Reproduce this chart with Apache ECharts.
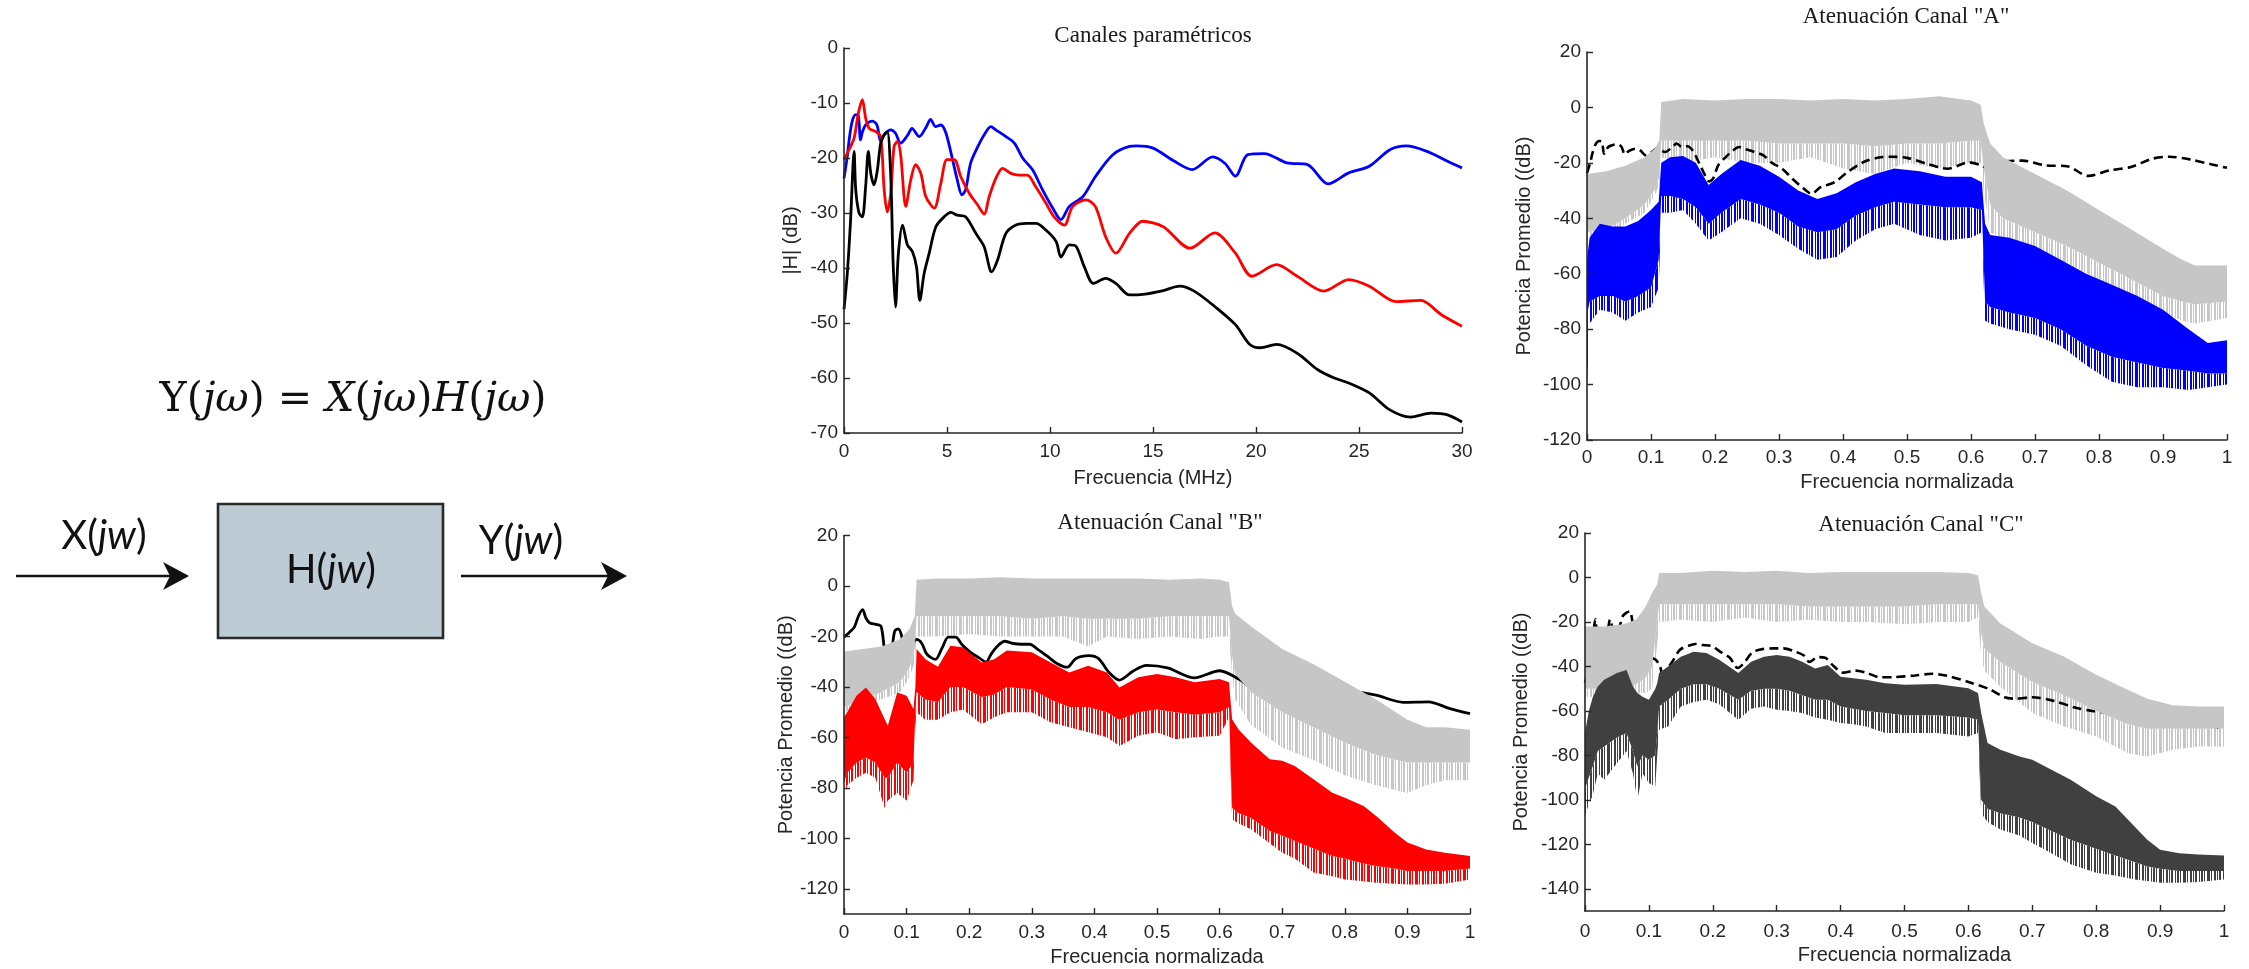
<!DOCTYPE html>
<html><head><meta charset="utf-8">
<script src="https://cdn.jsdelivr.net/npm/echarts@6.0.0/dist/echarts.min.js"></script>
<style>html,body{margin:0;padding:0;background:#fff}#c{width:2249px;height:969px}</style>
</head><body><div id="c"></div>
<script>
// ---------- DATA ----------
const fMax = 30; // MHz, full band (normalised frequency 1)
// Canales paramétricos [MHz, dB]
const chanBlue = [[0,-23.7],[0.16,-19.7],[0.25,-16.7],[0.4,-13.3],[0.57,-12.1],[0.7,-12.4],[0.8,-16.7],[0.9,-15.2],[1.05,-14],[1.38,-13.3],[1.6,-14],[1.78,-17],[1.95,-15.8],[2.27,-14.9],[2.5,-15.5],[2.75,-17.3],[3.1,-15.8],[3.3,-14.6],[3.65,-16.1],[4.0,-14.3],[4.2,-13],[4.45,-14.3],[4.7,-14],[4.95,-15.5],[5.27,-20.3],[5.5,-24],[5.72,-26.7],[5.9,-25.8],[6.15,-20.9],[6.5,-17.9],[6.8,-15.8],[7.13,-14.3],[7.37,-14.9],[7.86,-16.1],[8.27,-17.3],[8.67,-20],[9.16,-22.2],[9.64,-25.8],[10.13,-29.1],[10.53,-31.2],[10.94,-28.8],[11.6,-27],[12.2,-23.4],[13.05,-19.4],[13.86,-17.9],[14.2,-17.8],[15,-18.2],[16,-20.5],[16.9,-22.1],[17.9,-19.8],[18.5,-21],[19,-23.3],[19.6,-19.4],[20.4,-19.2],[21.5,-20.9],[22.5,-21.2],[23.5,-24.7],[24.5,-22.7],[25.5,-21.5],[26.5,-18.5],[27.3,-17.8],[28.3,-18.8],[29.3,-20.6],[30,-21.8]];
const chanRed = [[0,-20.3],[0.24,-18.5],[0.49,-16.4],[0.7,-11.8],[0.89,-9.4],[1.05,-12.7],[1.22,-14.6],[1.54,-15.2],[1.78,-16.1],[1.95,-25.8],[2.1,-29.8],[2.27,-26.4],[2.43,-17.9],[2.6,-17],[2.75,-19.4],[3.0,-28.8],[3.24,-24],[3.48,-21.2],[3.73,-22.8],[3.97,-27],[4.38,-29.1],[4.7,-24.6],[5.0,-20.3],[5.35,-20.3],[5.67,-23.4],[6.08,-26.4],[6.48,-28.5],[6.8,-30.2],[7.05,-27],[7.37,-23.7],[7.7,-21.9],[8.1,-22.8],[8.5,-23.1],[8.9,-23.1],[9.3,-25.2],[9.8,-28.2],[10.2,-30.7],[10.7,-32.2],[11.1,-28.8],[11.75,-27.6],[12.2,-28.8],[12.7,-34.3],[13.2,-37.3],[13.86,-33.7],[14.5,-31.5],[15.5,-32.5],[16.8,-36.4],[18,-33.6],[19,-37.3],[19.8,-41.5],[21,-39.4],[22,-41.5],[23.3,-44.2],[24.5,-42.1],[25.5,-43.3],[26.8,-46.1],[28,-45.9],[29,-48.5],[30,-50.6]];
const chanBlack = [[0,-47.5],[0.16,-41],[0.32,-31.3],[0.49,-18.8],[0.57,-25.8],[0.73,-30],[0.89,-30.7],[1.05,-25.2],[1.18,-18.8],[1.3,-22.8],[1.46,-24.9],[1.62,-22.2],[1.78,-17.3],[1.95,-15.8],[2.1,-15.2],[2.27,-23.4],[2.38,-38.6],[2.5,-47.1],[2.64,-37.4],[2.84,-32.2],[3.08,-35.8],[3.32,-37],[3.52,-39.8],[3.68,-45.9],[3.89,-41],[4.13,-37.4],[4.46,-32.5],[4.86,-30.7],[5.19,-29.9],[5.5,-30.4],[5.9,-30.7],[6.4,-33.7],[6.8,-36.1],[7.17,-40.7],[7.45,-38.6],[7.86,-33.7],[8.35,-32.2],[8.84,-31.9],[9.32,-31.9],[9.8,-33.1],[10.3,-35.2],[10.53,-38],[10.94,-35.8],[11.27,-36.1],[11.67,-39.8],[12.1,-42.8],[12.7,-41.9],[13.2,-42.8],[13.86,-44.9],[14.5,-44.8],[15.5,-44.1],[16.3,-43.3],[17,-44.2],[18,-47],[19,-50.3],[19.7,-53.9],[20.2,-54.5],[21,-53.9],[22,-55.5],[23,-58.5],[23.8,-60],[24.5,-60.9],[25.5,-62.7],[26.5,-65.8],[27.5,-67.1],[28.5,-66.4],[29.3,-66.7],[30,-68]];

// Noisy spectra envelopes: [normalised freq, upper, dense-core lower, spike lower] (dB)
const grayA = [[0,-24,-45,-48],[0.03,-23,-44,-46],[0.06,-21,-40,-42],[0.09,-18,-35,-38],[0.105,-15,-30,-32],[0.113,-12,-25,-28],[0.116,2,-12,-18],[0.15,3,-12,-20],[0.2,2.5,-12,-18],[0.25,3,-12,-20],[0.3,3,-13,-20],[0.35,2.5,-13,-18],[0.4,3,-13,-22],[0.45,2.5,-14,-24],[0.5,3,-13,-20],[0.55,4,-13,-22],[0.6,2.5,-12,-20],[0.615,1,-12,-20],[0.62,-6,-22,-30],[0.63,-13,-35,-45],[0.65,-18,-40,-47],[0.7,-24,-45,-52],[0.75,-30,-50,-56],[0.8,-37,-56,-62],[0.85,-44,-62,-68],[0.9,-51,-68,-74],[0.93,-55,-70,-77],[0.95,-57,-71,-78],[1.0,-57,-70,-76]];
const blueA = [[0,-55,-75,-100],[0.004,-47,-70,-78],[0.02,-42,-68,-73],[0.04,-43,-68,-74],[0.06,-43,-70,-77],[0.08,-41,-68,-74],[0.1,-37,-65,-72],[0.112,-34,-55,-65],[0.116,-20,-32,-38],[0.13,-18,-32,-38],[0.15,-17.5,-33,-37],[0.17,-20,-36,-42],[0.19,-28,-42,-48],[0.21,-24,-38,-45],[0.24,-19,-33,-40],[0.27,-21,-35,-42],[0.3,-25,-38,-46],[0.33,-30,-43,-51],[0.36,-33,-45,-55],[0.39,-31,-44,-54],[0.42,-27,-39,-48],[0.45,-24,-36,-44],[0.48,-22,-34,-42],[0.52,-23,-35,-46],[0.56,-25,-36,-48],[0.6,-25,-36,-47],[0.617,-27,-37,-45],[0.622,-42,-70,-77],[0.63,-46,-72,-78],[0.66,-47,-74,-80],[0.7,-50,-76,-82],[0.74,-55,-80,-86],[0.78,-60,-86,-93],[0.82,-64,-90,-99],[0.86,-68,-92,-101],[0.9,-73,-94,-101],[0.94,-80,-95,-102],[0.97,-85,-96,-101],[1.0,-84,-96,-100]];
const grayB = [[0,-26,-48,-50],[0.03,-25,-45,-47],[0.06,-24,-42,-45],[0.09,-21,-38,-42],[0.105,-17,-32,-36],[0.113,-12,-25,-30],[0.116,2.5,-12,-20],[0.15,3,-12,-20],[0.2,3,-12,-19],[0.25,3.5,-12,-20],[0.3,3,-13,-20],[0.35,3,-12,-20],[0.39,3,-13,-24],[0.42,3,-13,-20],[0.47,3,-13,-21],[0.52,2.5,-12,-20],[0.57,3,-12,-21],[0.6,2.5,-12,-20],[0.615,1.5,-12,-20],[0.62,-8,-28,-35],[0.625,-11,-35,-45],[0.65,-16,-42,-55],[0.7,-25,-50,-64],[0.75,-31,-56,-69],[0.8,-38,-62,-75],[0.85,-45,-67,-79],[0.9,-53,-70,-82],[0.93,-56,-70,-79],[0.96,-56,-70,-77],[1.0,-57,-70,-77]];
const redB = [[0,-52,-78,-85],[0.005,-50,-74,-79],[0.02,-43.5,-70,-76],[0.035,-40.2,-68,-74],[0.05,-44.8,-70,-76],[0.065,-52.8,-76,-88],[0.07,-55.4,-76,-85],[0.085,-42.2,-70,-82],[0.1,-43.5,-74,-85],[0.111,-48.8,-70,-77],[0.114,-40,-50,-55],[0.116,-25,-42,-50],[0.13,-29,-45,-53],[0.15,-32,-46,-53],[0.17,-23.7,-40,-50],[0.19,-24.3,-40,-49],[0.22,-30.3,-44,-54.8],[0.24,-29,-43,-52],[0.26,-25.6,-40,-50],[0.3,-26.3,-41,-50],[0.33,-30.3,-45,-54],[0.36,-34.3,-48,-56],[0.39,-31.6,-48,-58],[0.42,-34.3,-50,-60],[0.44,-40.2,-53,-63.4],[0.47,-36.2,-50,-59.4],[0.5,-34.9,-49,-58],[0.53,-36.2,-50,-60.7],[0.56,-38.2,-51,-60],[0.6,-36.9,-50,-59.4],[0.615,-38.2,-48,-52],[0.62,-52.8,-88,-92.5],[0.63,-56.8,-90,-94],[0.65,-62,-92,-96.4],[0.68,-68.7,-97,-102],[0.7,-69.3,-99,-105.7],[0.72,-71.3,-101,-108],[0.75,-76.6,-104,-113.6],[0.78,-81.9,-107,-115],[0.8,-83.9,-108,-116.3],[0.83,-87.2,-110,-117],[0.85,-91.2,-111,-117.6],[0.88,-97.8,-112,-118],[0.9,-101.7,-113,-118.3],[0.93,-104.4,-113,-118.3],[0.96,-105.7,-113,-118],[1.0,-107,-112,-116.3]];
const grayC = [[0,-22,-50,-54],[0.03,-22,-50,-53],[0.06,-21,-50,-53],[0.08,-19,-48,-52],[0.095,-13,-45,-52],[0.105,-7,-40,-50],[0.113,-3,-20,-30],[0.116,2,-12,-20],[0.15,2,-12,-19],[0.2,3,-12,-20],[0.25,2.5,-12,-18],[0.3,3,-12,-20],[0.35,2,-13,-19],[0.4,2.5,-13,-20],[0.45,2.5,-13,-20],[0.5,2.5,-13,-21],[0.55,2.5,-12,-20],[0.6,2,-12,-20],[0.615,1,-12,-18],[0.62,-7,-25,-35],[0.625,-13,-32,-42],[0.65,-20.7,-38,-49],[0.7,-29.6,-47,-61],[0.75,-35.6,-53,-67],[0.8,-43.8,-60,-71.5],[0.85,-50.6,-66,-79],[0.88,-54.5,-68,-80.5],[0.92,-57.5,-68,-77.5],[0.96,-58,-68,-76],[1.0,-58,-68,-76]];
const dgrayC = [[0,-70,-95,-107],[0.006,-60,-90,-102],[0.012,-54,-85,-98],[0.02,-49,-78,-88],[0.03,-46,-76,-91],[0.05,-43,-72,-83.5],[0.065,-41.6,-70,-78],[0.075,-49,-78,-88],[0.082,-52,-85,-100],[0.09,-53.6,-80,-88],[0.1,-55,-82,-92.4],[0.11,-50,-80,-94],[0.113,-47.6,-70,-80],[0.116,-43,-58,-68.5],[0.13,-40,-55,-67],[0.15,-35.6,-50,-58],[0.17,-33.4,-48,-56],[0.19,-34,-48,-55],[0.21,-37,-50,-57],[0.24,-43,-55,-64],[0.26,-37.9,-51,-59],[0.28,-35.6,-50,-58],[0.3,-34.9,-50,-59.5],[0.32,-35.6,-51,-60],[0.34,-37.9,-53,-61],[0.36,-40.9,-55,-63],[0.38,-39.4,-55,-64],[0.4,-44.6,-58,-65.5],[0.42,-45.3,-59,-66],[0.44,-46,-60,-67],[0.47,-47.6,-61,-70],[0.5,-48.3,-62,-70],[0.55,-47.9,-62,-70],[0.6,-49.8,-63,-71.5],[0.615,-52,-64,-70],[0.62,-61,-100,-106],[0.63,-74.5,-104,-110],[0.65,-77.5,-106,-113.4],[0.68,-80.5,-108,-116],[0.7,-82,-110,-119.4],[0.73,-86.5,-114,-124],[0.76,-91,-118,-129],[0.8,-98.4,-122,-132.8],[0.83,-103,-125,-134],[0.86,-112,-128,-135.8],[0.88,-118,-130,-136.5],[0.9,-122.4,-131,-137.3],[0.93,-124,-132,-137.3],[0.96,-124.6,-132,-137],[1.0,-125,-132,-135.8]];

// Tick labels
const ticksMHz = [0,5,10,15,20,25,30];
const ticksNorm = [0,0.1,0.2,0.3,0.4,0.5,0.6,0.7,0.8,0.9,1];
const ticksH = [0,-10,-20,-30,-40,-50,-60,-70];
const ticksAB = [20,0,-20,-40,-60,-80,-100,-120];
const ticksC = [20,0,-20,-40,-60,-80,-100,-120,-140];

// Texts
const titles = ['Canales paramétricos','Atenuación Canal "A"','Atenuación Canal "B"','Atenuación Canal "C"'];
const xNameMHz = 'Frecuencia (MHz)';
const xNameNorm = 'Frecuencia normalizada';
const yNameH = '|H| (dB)';
const yNameP = 'Potencia Promedio ((dB)';

// ---------- CHART ----------
const SANS = '"Liberation Sans", Arial, sans-serif';
const SERIF = '"Liberation Serif", "Times New Roman", serif';
const AX = '#262626';

// irregular vertical-line texture for the sparse (spike) part of the noisy spectra
const STRIPE = [1,1,0,1,0,0,1,1,0,1,0,1,1,0,0,1,0,1,1,0,1,0,0,1];
function stripes(color) {
  const c = document.createElement('canvas');
  c.width = STRIPE.length; c.height = 8;
  const ctx = c.getContext('2d');
  ctx.fillStyle = color;
  STRIPE.forEach((on, i) => { if (on) ctx.fillRect(i, 0, 1, 8); });
  return {type: 'pattern', image: c, repeat: 'repeat'};
}

function xAx(gi, min, max, ticks, name, gap, margin) {
  return {
    type: 'value', gridIndex: gi, min: min, max: max, z: 10,
    axisLine: {show: true, onZero: false, lineStyle: {color: AX, width: 1.6}},
    axisTick: {show: true, inside: true, length: 6, customValues: ticks, lineStyle: {color: AX, width: 1.4}},
    axisLabel: {customValues: ticks, margin: margin, fontSize: 19, fontFamily: SANS, color: AX},
    splitLine: {show: false},
    name: name, nameLocation: 'middle', nameGap: gap,
    nameTextStyle: {fontSize: 20, fontFamily: SANS, color: AX}
  };
}
function yAx(gi, min, max, ticks, name, gap) {
  return {
    type: 'value', gridIndex: gi, min: min, max: max, z: 10,
    axisLine: {show: true, onZero: false, lineStyle: {color: AX, width: 1.6}},
    axisTick: {show: true, inside: true, length: 6, customValues: ticks, lineStyle: {color: AX, width: 1.4}},
    axisLabel: {customValues: ticks, margin: 6, fontSize: 19, fontFamily: SANS, color: AX},
    splitLine: {show: false},
    name: name, nameLocation: 'middle', nameGap: gap,
    nameTextStyle: {fontSize: 20, fontFamily: SANS, color: AX}
  };
}
function lineS(idx, data, color, dashed, z) {
  return {
    type: 'line', xAxisIndex: idx, yAxisIndex: idx, data: data,
    showSymbol: false, symbol: 'none', silent: true, z: z || 2, smooth: 0.3,
    lineStyle: {color: color, width: dashed ? 2.6 : 2.8, type: dashed ? [9, 5] : 'solid'}
  };
}
// part: 'core' = dense region (upper -> core lower), 'spike' = sparse region (core lower -> spike lower)
function bandS(idx, rows, part, fill, z) {
  return {
    type: 'custom', xAxisIndex: idx, yAxisIndex: idx, coordinateSystem: 'cartesian2d',
    data: rows, encode: {x: 0, y: [1, 2, 3]}, silent: true, z: z,
    renderItem: function (params, api) {
      if (params.dataIndex !== 0) return null;
      const a = part === 'core' ? 1 : 2, b = part === 'core' ? 2 : 3;
      const up = rows.map(r => api.coord([r[0], r[a]]));
      const dn = rows.map(r => api.coord([r[0], r[b]]));
      return {type: 'polygon', shape: {points: up.concat(dn.reverse())}, style: {fill: fill}};
    }
  };
}
const norm = d => d.map(p => [p[0] / fMax, p[1]]);

const GRAY = '#c6c6c6', BLUE = '#0000ff', RED = '#ff0000', DGRAY = '#404040';
const option = {
  animation: false,
  backgroundColor: '#ffffff',
  grid: [
    {left: 844, top: 48, width: 618, height: 385},
    {left: 1587, top: 52, width: 640, height: 388},
    {left: 844, top: 535.5, width: 626, height: 378.5},
    {left: 1585, top: 533, width: 639, height: 378}
  ],
  xAxis: [
    xAx(0, 0, 30, ticksMHz, xNameMHz, 35, 9),
    xAx(1, 0, 1, ticksNorm, xNameNorm, 32, 8),
    xAx(2, 0, 1, ticksNorm, xNameNorm, 33, 9),
    xAx(3, 0, 1, ticksNorm, xNameNorm, 34, 11)
  ],
  yAxis: [
    yAx(0, -70, 0, ticksH, yNameH, 43),
    yAx(1, -120, 20, ticksAB, yNameP, 53),
    yAx(2, -130, 20, ticksAB, yNameP, 48),
    yAx(3, -150, 20, ticksC, yNameP, 54)
  ],
  series: [
    lineS(0, chanBlue, BLUE, false, 2),
    lineS(0, chanRed, RED, false, 3),
    lineS(0, chanBlack, '#000000', false, 4),

    bandS(1, grayA, 'spike', stripes(GRAY), 1),
    lineS(1, norm(chanBlue), '#000000', true, 2),
    bandS(1, grayA, 'core', GRAY, 3),
    bandS(1, blueA, 'spike', stripes(BLUE), 4),
    bandS(1, blueA, 'core', BLUE, 5),

    bandS(2, grayB, 'spike', stripes(GRAY), 1),
    lineS(2, norm(chanRed), '#000000', false, 2),
    bandS(2, grayB, 'core', GRAY, 3),
    bandS(2, redB, 'spike', stripes(RED), 4),
    bandS(2, redB, 'core', RED, 5),

    bandS(3, grayC, 'spike', stripes(GRAY), 1),
    lineS(3, norm(chanBlack), '#000000', true, 2),
    bandS(3, grayC, 'core', GRAY, 3),
    bandS(3, dgrayC, 'spike', stripes(DGRAY), 4),
    bandS(3, dgrayC, 'core', DGRAY, 5)
  ],
  graphic: [
    // titles
    {type: 'text', x: 1153, y: 36, style: {text: titles[0], font: '23px ' + SERIF, fill: '#1a1a1a', align: 'center', verticalAlign: 'middle'}},
    {type: 'text', x: 1906, y: 17, style: {text: titles[1], font: '23px ' + SERIF, fill: '#1a1a1a', align: 'center', verticalAlign: 'middle'}},
    {type: 'text', x: 1160, y: 523, style: {text: titles[2], font: '23px ' + SERIF, fill: '#1a1a1a', align: 'center', verticalAlign: 'middle'}},
    {type: 'text', x: 1921, y: 525, style: {text: titles[3], font: '23px ' + SERIF, fill: '#1a1a1a', align: 'center', verticalAlign: 'middle'}},
    // block diagram
    {type: 'text', x: 353, y: 400, style: {
      text: '{u|Y(}{i|jω}{u|) = }{i|X}{u|(}{i|jω}{u|)}{i|H}{u|(}{i|jω}{u|)}',
      align: 'center', verticalAlign: 'middle',
      rich: {
        u: {fontFamily: '"DejaVu Serif", serif', fontSize: 41, fill: '#111'},
        i: {fontFamily: '"DejaVu Serif", serif', fontSize: 41, fontStyle: 'italic', fill: '#111'}
      }}},
    {type: 'line', shape: {x1: 16, y1: 576, x2: 172, y2: 576}, style: {stroke: '#111', lineWidth: 2.6}},
    {type: 'polygon', shape: {points: [[189, 576], [163, 562], [170, 576], [163, 590]]}, style: {fill: '#111'}},
    {type: 'rect', shape: {x: 218, y: 504, width: 225, height: 134}, style: {fill: '#bdcbd5', stroke: '#2a2a2a', lineWidth: 2.6}},
    {type: 'text', x: 331, y: 570, style: {text: '{n|H(}{i|jw}{n|)}', align: 'center', verticalAlign: 'middle',
      rich: {n: {fontFamily: 'Lato, sans-serif', fontSize: 40, fill: '#111'}, i: {fontFamily: 'Lato, sans-serif', fontSize: 40, fontStyle: 'italic', fill: '#111'}}}},
    {type: 'text', x: 104, y: 536, style: {text: '{n|X(}{i|jw}{n|)}', align: 'center', verticalAlign: 'middle',
      rich: {n: {fontFamily: 'Lato, sans-serif', fontSize: 40, fill: '#111'}, i: {fontFamily: 'Lato, sans-serif', fontSize: 40, fontStyle: 'italic', fill: '#111'}}}},
    {type: 'text', x: 521, y: 541, style: {text: '{n|Y(}{i|jw}{n|)}', align: 'center', verticalAlign: 'middle',
      rich: {n: {fontFamily: 'Lato, sans-serif', fontSize: 40, fill: '#111'}, i: {fontFamily: 'Lato, sans-serif', fontSize: 40, fontStyle: 'italic', fill: '#111'}}}},
    {type: 'line', shape: {x1: 461, y1: 576, x2: 610, y2: 576}, style: {stroke: '#111', lineWidth: 2.6}},
    {type: 'polygon', shape: {points: [[627, 576], [601, 562], [608, 576], [601, 590]]}, style: {fill: '#111'}}
  ]
};
const chart = echarts.init(document.getElementById('c'));
chart.setOption(option);
</script></body></html>
